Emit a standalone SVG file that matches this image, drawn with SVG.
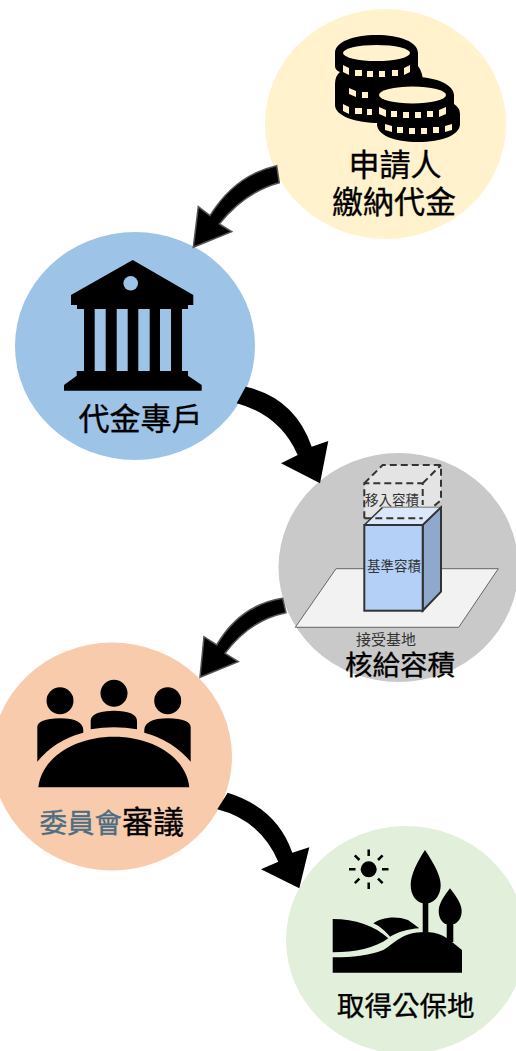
<svg xmlns="http://www.w3.org/2000/svg" width="516" height="1051" viewBox="0 0 516 1051">
<style>
text{font-family:"Noto Sans CJK TC","Noto Sans CJK SC",sans-serif;fill:#000}
.l{font-size:31px;font-weight:400;stroke:#000;stroke-width:.35}
.m{font-size:27.500px;font-weight:400;stroke:#000;stroke-width:.35}
.s{font-size:13.500px;fill:#333}
.glow{fill:#000;stroke:#555;stroke-width:1.500;stroke-linejoin:miter}
.flat{fill:#000}
.d{fill:none;stroke:#333;stroke-width:2;stroke-dasharray:7 4}
</style>
<rect width="516" height="1051" fill="#fff"/>
<g id="node-applicant">
<ellipse cx="385.500" cy="124" rx="120.500" ry="115" fill="#fff2cc"/>
<g fill="#000">
<path d="M335,53C335,42 353,35 376.500,35S418,42 418,53V66Q423,72 423,84V105C423,116 402,123 379,123S335,116 335,105V84Q335,76 340,72Q335,70 335,66Z"/>
<path d="M375,95C375,85 392,77 414.500,77S454,85 454,95V104Q460,108 460,114V124C460,135 442,142 418,142S377,135 377,124V116Q375,112 375,108Z"/>
</g>
<g fill="#fff2cc">
<ellipse cx="376.500" cy="53" rx="33.500" ry="8"/>
<ellipse cx="412.500" cy="95" rx="33.500" ry="8.500"/>
<path d="M343,65L349,68V75L343,72ZM410,65L404,68V75L410,72Z"/>
<path d="M355,70h7v6h-7zM367,71h6v6h-6zM379,71h6v6h-6zM392,70h6v6h-6z"/>
<path d="M349,88l7,3v6l-7,-3zM362,92h6v6h-6z"/>
<path d="M343,104l6,3v7l-6,-3zM355,108h7v6h-7zM367,109h5v6h-5z"/>
<path d="M379,107l7,3v7l-7,-3zM446,107l-7,3v7l7,-3z"/>
<path d="M391,111h6v6h-6zM403,112h6v6h-6zM415,112h6v6h-6zM427,111h6v6h-6z"/>
<path d="M385,124l7,2v6l-7,-2zM452,124l-7,2v6l7,-2z"/>
<path d="M397,127h6v6h-6zM409,128h6v6h-6zM421,128h6v6h-6zM433,127h6v6h-6z"/>
</g>
<text class="l" x="348.500" y="176">申請人</text>
<text class="l" x="332" y="213">繳納代金</text>
</g>
<g id="node-account">
<ellipse cx="135" cy="346" rx="120" ry="114" fill="#9dc3e6"/>
<path class="flat" d="M132.700,260L193.300,295V305H188V309H182V371H188V375.700L201.700,385V390.700H64V385L76.700,375.700V371H84V309H77V305H71V295ZM94.700,309V371H105.700V309ZM116.700,309V371H127.700V309ZM138.300,309V371H149.700V309ZM160,309V371H171V309Z" fill-rule="evenodd"/>
<circle cx="130.700" cy="283.300" r="7.300" fill="#9dc3e6"/>
<text class="l" x="78.500" y="430">代金專戶</text>
</g>
<g id="node-volume">
<ellipse cx="398.500" cy="567.500" rx="120" ry="114.500" fill="#c9c9c9"/>
<path d="M336,568.700H498.300L458.700,627.300H295.300Z" fill="#f2f2f2" stroke="#666" stroke-width="1"/>
<path d="M364.300,483.300L382.700,465H441V500L422.700,518.300H364.300Z" fill="#e4e4e4"/>
<path d="M364.300,525L382.700,507.300H441L422.700,525Z" fill="#dbe8fb"/>
<path d="M364.300,525L382.700,507.300" stroke="#333" stroke-width="1.500" fill="none"/>
<path d="M382.700,507.300H441" stroke="#999" stroke-width="1.500" fill="none"/>
<path d="M422.700,525L441,507.300V591.700L422.700,610.700Z" fill="#8fa9cc" stroke="#333" stroke-width="2"/>
<rect x="364.300" y="525" width="58.400" height="85.700" fill="#b4d0f7" stroke="#333" stroke-width="2"/>
<path class="d" d="M364.300,518.300V483.300H422.700V505M364.300,518.300H422.700M364.300,483.300L382.700,465H441V500L434,506M422.700,483.300L441,465"/>
<text class="s" x="365" y="505">移入容積</text>
<text class="s" x="367" y="571">基準容積</text>
<text x="356" y="645" style="font-size:15px;fill:#333">接受基地</text>
<text class="m" x="345" y="675">核給容積</text>
</g>
<g id="node-committee">
<ellipse cx="112" cy="756.500" rx="120" ry="114" fill="#f8cbad"/>
<g fill="#000">
<circle cx="60" cy="700.700" r="13.500"/>
<circle cx="114" cy="693.300" r="13.500"/>
<circle cx="167.700" cy="700.700" r="13.500"/>
<path d="M37.300,761.700V727C37.300,722 45,718.300 60,718.300C76,718.300 83.300,723 83.300,730V732.700Q55,740 37.300,761.700Z"/>
<path d="M190.700,761.700V727C190.700,722 183,718.300 168,718.300C152,718.300 144.300,723 144.300,730V732.700Q172,740 190.700,761.700Z"/>
<path d="M90.700,729.300V721C90.700,714 100,710.700 114,710.700S137,714 137,721V729.300Q114,725 90.700,729.300Z"/>
<path d="M38.300,787.300C42,757 75,736.700 114,736.700S186,757 189.300,787.300Z"/>
</g>
<text x="39.500" y="833" style="font-size:27.500px;fill:#4d6d82;stroke:#4d6d82;stroke-width:.35">委員會<tspan style="font-size:31px;fill:#000;stroke:#000">審議</tspan></text>
</g>
<g id="node-park">
<ellipse cx="406" cy="940" rx="120" ry="114" fill="#e2efda"/>
<g fill="#000">
<circle cx="368.700" cy="869.300" r="8"/>
<path d="M425,850C417,862 410.700,875 410.700,885C410.700,895 416,902 422.700,903.300V933H428.300V903.300C435,902 440.700,895 440.700,885C440.700,875 433,862 425,850Z"/>
<path d="M450,888.300C444,896 438.700,904 438.700,911C438.700,918 442,923 446.700,924.300V942H453.300V924.300C458,923 461.700,918 461.700,911C461.700,904 456,896 450,888.300Z"/>
<path d="M332.700,972.700V957.300C350,957.500 368,956 383.300,950C395,943 402,932 425,932C438,932 446,937 451.700,941.700L462,950V972.700Z"/>
<path d="M332.700,919C355,919 375,926 388.300,938.300C375,948 355,952.300 332.700,952.300Z"/>
<path d="M373.300,923.300C380,918 395,915 408,920L419.300,928.300C408,929 398,932 390,936.700C386,932 380,926 373.300,923.300Z"/>
</g>
<path d="M368.700,849.500v6.500M368.700,882.500v6.500M349,869.300h6.500M382,869.300h6.500M354.800,855.400l4.600,4.600M378,878.600l4.600,4.600M382.600,855.400l-4.600,4.600M359.400,878.600l-4.600,4.600" stroke="#000" stroke-width="2.500" fill="none"/>
<text class="m" x="337" y="1016">取得公保地</text>
</g>
<g id="connectors">
<path class="glow" d="M276.700,165.700Q235,175 210,215.700L198.300,206.700L193.300,247.300L231.700,231.700L219.300,224Q245,192 279.300,182.700Z"/>
<path class="flat" d="M245.700,386.700Q295,398 311.700,446.700L328.300,441L320,483.300L281,463.300L297.700,455Q280,415 236.700,403.300Z"/>
<path class="glow" d="M282.700,598.300Q240,605 216.700,645L204,636.700L200,677.300L238.300,661.700L225,653.300Q250,620 286,612.700Z"/>
<path class="flat" d="M227.700,792.700Q277,808 292.300,852.700L309.300,847.300L299.300,888.300L261,869.300L278.300,861.700Q260,820 217.300,809.300Z"/>
</g>
</svg>
